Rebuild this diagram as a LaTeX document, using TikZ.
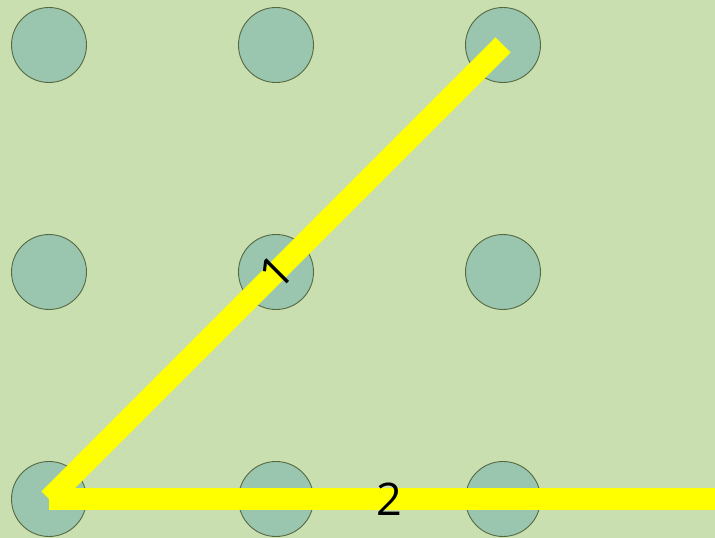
\documentclass[tikz,border=0pt]{standalone}
\usepackage{fontspec}
\setmainfont{Open Sans}
\usetikzlibrary{positioning}
\definecolor{bggreen}{RGB}{201,223,176}
\definecolor{dotfill}{RGB}{154,198,176}
\definecolor{dotdraw}{RGB}{85,105,65}
\definecolor{pathyellow}{RGB}{255,255,0}

\begin{document}
\begin{tikzpicture}[x=1pt,y=1pt,
  dot/.style={circle,draw=dotdraw,fill=dotfill,minimum size=75pt,
              inner sep=0pt,line width=0.9pt},
  stroke/.style={line width=21.5pt,pathyellow},
  lbl/.style={font=\fontsize{45}{45}\selectfont,text=black}]
\fill[bggreen] (0,0) rectangle (715,538);
\useasboundingbox (0,0) rectangle (715,538);
\foreach \r/\y in {1/493,2/266,3/39}
  \foreach \c/\x in {1/49,2/276,3/503}
    \node[dot] (p\r\c) at (\x,\y) {};
\coordinate (edge) at (729,39);
\draw[stroke] (p13.center) -- node[lbl,sloped] {1} (p31.center);
\draw[stroke] (p31.center) -- node[lbl] {2} (edge);
\end{tikzpicture}
\end{document}
